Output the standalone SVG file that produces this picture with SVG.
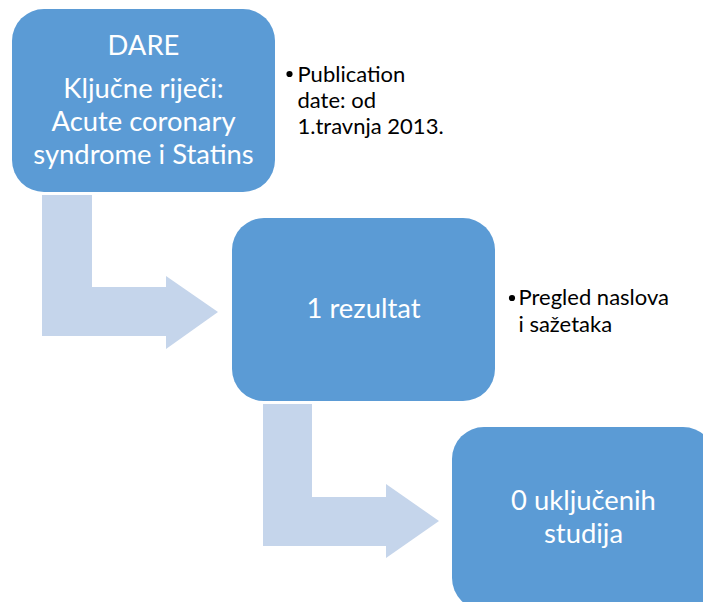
<svg xmlns="http://www.w3.org/2000/svg" width="703" height="602" viewBox="0 0 703 602">
<style>
.box{fill:#5B9BD5;}
.arrow{fill:#C5D5EB;}
.bt{font-family:Lato,"Open Sans","Liberation Sans",sans-serif;font-size:27.4px;fill:#FFFFFF;text-anchor:middle;}
.note{font-family:Lato,"Open Sans","Liberation Sans",sans-serif;font-size:22px;fill:#000000;}
.dot{fill:#000000;}
</style>
<rect width="703" height="602" fill="#FFFFFF"/>
<g id="connectors">
<path class="arrow" d="M42,195 H92 V287 H166 V276 L218,312 L166,349 V336 H42 Z"/>
<path class="arrow" d="M263,404 H312 V497 H386 V484 L439,521 L386,558 V546 H263 Z"/>
</g>
<g id="node-dare">
<rect class="box" x="12" y="9" width="263" height="183" rx="32" ry="32"/>
<text class="bt" x="143.5" y="55">DARE</text>
<text class="bt" x="143.5" y="98">Ključne riječi:</text>
<text class="bt" x="143.5" y="131">Acute coronary</text>
<text class="bt" x="143.5" y="164">syndrome i Statins</text>
</g>
<g id="note-publication">
<circle class="dot" cx="289.5" cy="74" r="3.1"/>
<text class="note" x="297.5" y="81.5">Publication</text>
<text class="note" x="297.5" y="107.5">date: od</text>
<text class="note" x="297.5" y="133.5">1.travnja 2013.</text>
</g>
<g id="node-rezultat">
<rect class="box" x="232" y="218" width="263" height="183" rx="32" ry="32"/>
<text class="bt" x="363.5" y="318">1 rezultat</text>
</g>
<g id="note-pregled">
<circle class="dot" cx="512" cy="298" r="3.1"/>
<text class="note" x="518.5" y="305">Pregled naslova</text>
<text class="note" x="518.5" y="331.5">i sažetaka</text>
</g>
<g id="node-ukljucenih">
<rect class="box" x="452" y="427" width="263" height="183" rx="32" ry="32"/>
<text class="bt" x="583.5" y="510">0 uključenih</text>
<text class="bt" x="583.5" y="543">studija</text>
</g>
</svg>
